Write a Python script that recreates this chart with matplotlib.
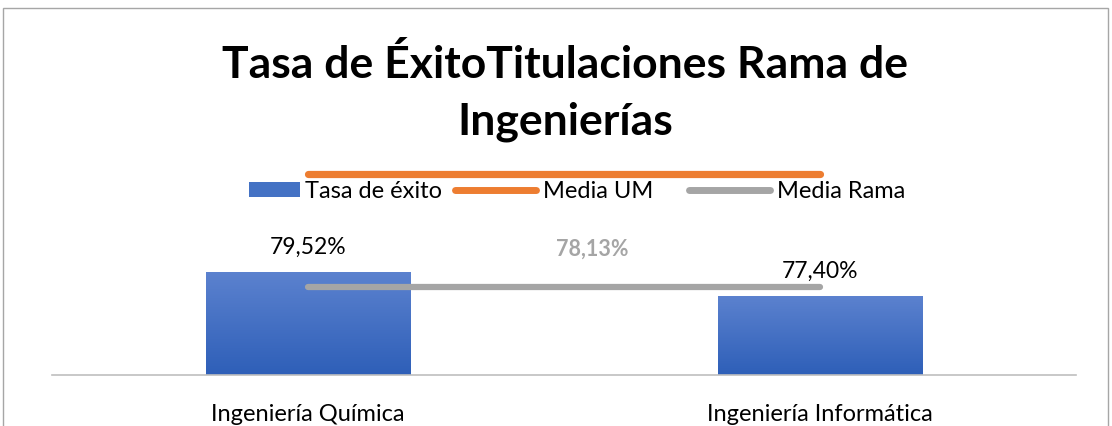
import matplotlib.pyplot as plt
import numpy as np
from matplotlib.patches import Rectangle
from matplotlib.lines import Line2D
from matplotlib.colors import LinearSegmentedColormap

# Data
categories = ['Ingeniería Química', 'Ingeniería Informática']
tasa_exito = [79.52, 77.40]
media_um = [88.13, 88.13]
media_rama = [78.13, 78.13]
bar_labels = ['79,52%', '77,40%']
rama_label = '78,13%'
legend_labels = ['Tasa de éxito', 'Media UM', 'Media Rama']

plt.rcParams['font.family'] = ['Lato', 'DejaVu Sans']

W, H = 1112, 427
fig = plt.figure(figsize=(W / 100, H / 100), dpi=100)
ax = fig.add_axes([52 / W, 1 - 376 / H, 1024 / W, 216 / H])

x = np.arange(len(categories))
bars = ax.bar(x, tasa_exito, width=0.40, color='#4472C4', zorder=2)

# vertical gradient inside each bar
grad = np.linspace(0, 1, 256).reshape(-1, 1)
cmap = LinearSegmentedColormap.from_list('g', ['#2E5FB8', '#5C82CF'])
for b in bars:
    b.set_facecolor('none')
    x0, y0 = b.get_x(), b.get_y()
    w, h = b.get_width(), b.get_height()
    im = ax.imshow(grad, extent=[x0, x0 + w, 70.38, y0 + h], origin='lower',
                   cmap=cmap, aspect='auto', zorder=2)
    im.set_clip_path(b)

ax.plot(x, media_um, color='#ED7D31', linewidth=5.2, solid_capstyle='round', zorder=3)
ax.plot(x, media_rama, color='#A5A5A5', linewidth=4.5, solid_capstyle='round', zorder=3)

ax.set_xlim(-0.5, 1.5)
ax.set_ylim(70.38, 89.46)

for xi, v, lab in zip(x, tasa_exito, bar_labels):
    ax.text(xi, v + 1.3, lab, ha='center', va='bottom', fontsize=16.5, color='#000000')
ax.text(0.555, media_rama[0] + 2.5, rama_label, ha='center', va='bottom',
        fontsize=15.5, fontweight='bold', color='#A5A5A5')

ax.set_xticks(x)
ax.set_xticklabels(categories, fontsize=17)
ax.tick_params(axis='x', length=0, pad=20)
ax.set_yticks([])
for s in ['top', 'right', 'left']:
    ax.spines[s].set_visible(False)
ax.spines['bottom'].set_color('#BFBFBF')
ax.spines['bottom'].set_linewidth(1.2)

fig.text(0.508, 1 - 65 / H, 'Tasa de ÉxitoTitulaciones Rama de', ha='center', va='center',
         fontsize=32, fontweight='bold')
fig.text(0.508, 1 - 122 / H, 'Ingenierías', ha='center', va='center',
         fontsize=32, fontweight='bold')

# legend, laid out by hand
ly = 1 - 191 / H
fig.add_artist(Rectangle((249 / W, 1 - 198 / H), 51 / W, 15 / H, transform=fig.transFigure,
                         facecolor='#4472C4', edgecolor='none'))
fig.add_artist(Line2D([455 / W, 536 / W], [ly, ly], transform=fig.transFigure,
                      color='#ED7D31', linewidth=5, solid_capstyle='round'))
fig.add_artist(Line2D([689 / W, 770 / W], [ly, ly], transform=fig.transFigure,
                      color='#A5A5A5', linewidth=5, solid_capstyle='round'))
for tx, lab in zip([305, 543, 777], legend_labels):
    fig.text(tx / W, ly, lab, ha='left', va='center', fontsize=17)

# chart border
fig.add_artist(Rectangle((3 / W, -0.1), 1105 / W, 1.1 - 9 / H, transform=fig.transFigure,
                         fill=False, edgecolor='#A6A6A6', linewidth=1))

plt.savefig('out.png', dpi=100)
